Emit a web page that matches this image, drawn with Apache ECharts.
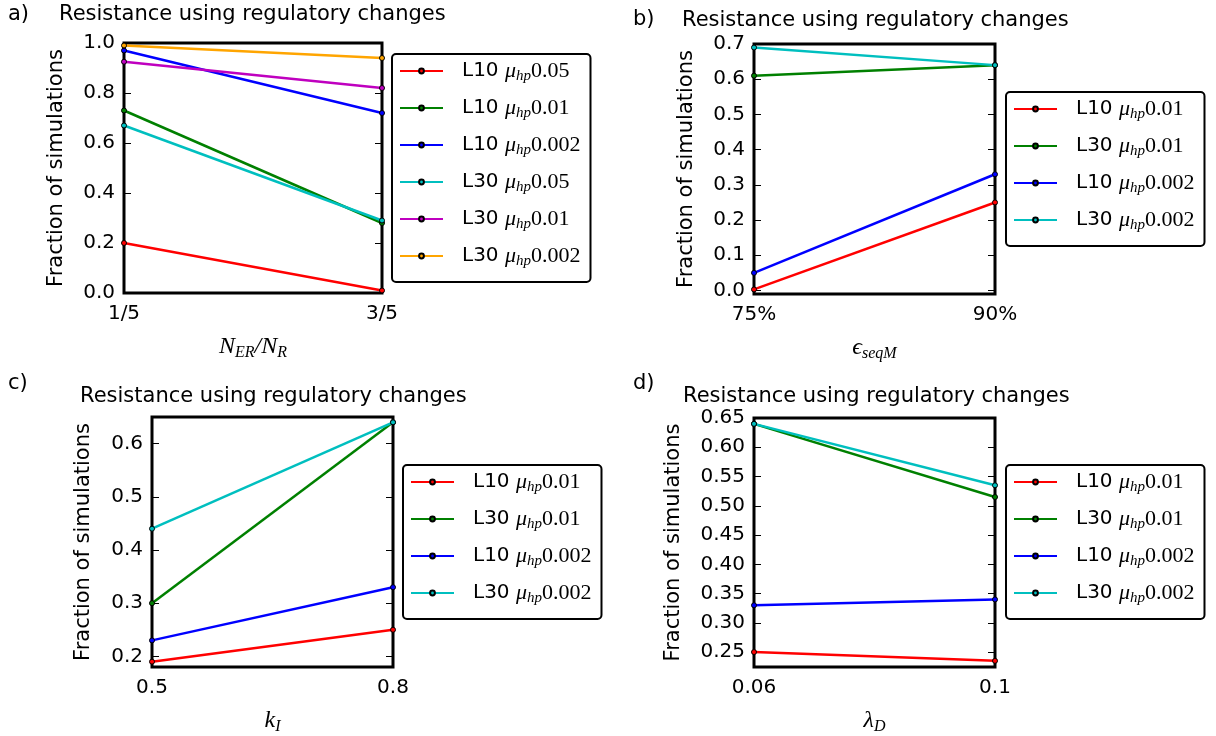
<!DOCTYPE html>
<html><head><meta charset="utf-8">
<script src="https://cdn.jsdelivr.net/npm/echarts@6/dist/echarts.min.js"></script>
<style>html,body{margin:0;padding:0;background:#fff}#c{width:1216px;height:736px}</style>
</head><body><div id="c"></div>
<script>
const RED = '#ff0000', GREEN = '#008000', BLUE = '#0000ff', CYAN = '#00bfbf', MAGENTA = '#bf00bf', ORANGE = '#ffa500';

// Panel a
const catsA = ['1/5', '3/5'];
const namesA = ['L10 0.05', 'L10 0.01', 'L10 0.002', 'L30 0.05', 'L30 0.01', 'L30 0.002'];
const valuesA = [[0.20, 0.01], [0.73, 0.28], [0.97, 0.72], [0.67, 0.29], [0.925, 0.82], [0.99, 0.94]];
const colorsA = [RED, GREEN, BLUE, CYAN, MAGENTA, ORANGE];
// Panels b, c, d share series names
const namesBCD = ['L10 0.01', 'L30 0.01', 'L10 0.002', 'L30 0.002'];
const colorsBCD = [RED, GREEN, BLUE, CYAN];
const catsB = ['75%', '90%'];
const valuesB = [[0.003, 0.25], [0.61, 0.64], [0.05, 0.33], [0.69, 0.64]];
const catsC = ['0.5', '0.8'];
const valuesC = [[0.19, 0.25], [0.30, 0.64], [0.23, 0.33], [0.44, 0.64]];
const catsD = ['0.06', '0.1'];
const valuesD = [[0.25, 0.235], [0.64, 0.515], [0.33, 0.34], [0.64, 0.535]];

const title = 'Resistance using regulatory changes';
const yName = 'Fraction of simulations';

const SANS = 'DejaVu Sans';
const SERIF = 'Liberation Serif';

const rich = {
  t: {fontFamily: SANS, fontSize: 20, lineHeight: 22, color: '#000', padding: [0, 0, 0, 14]},
  sp: {fontFamily: SANS, fontSize: 20, lineHeight: 22, color: '#000'},
  m: {fontFamily: SERIF, fontStyle: 'italic', fontSize: 22, lineHeight: 22, color: '#000'},
  s: {fontFamily: SERIF, fontStyle: 'italic', fontSize: 15, lineHeight: 10, verticalAlign: 'top', padding: [9, 0, 0, 0], color: '#000'},
  v: {fontFamily: SERIF, fontSize: 22, lineHeight: 22, color: '#000'}
};
const richAxis = {
  m: {fontFamily: SERIF, fontStyle: 'italic', fontSize: 24, lineHeight: 24, color: '#000'},
  s: {fontFamily: SERIF, fontStyle: 'italic', fontSize: 16, lineHeight: 10, verticalAlign: 'top', padding: [10, 0, 0, 0], color: '#000'}
};

const grids = [
  {left: 124, top: 43, width: 258, height: 250},
  {left: 754, top: 44, width: 241, height: 250},
  {left: 152, top: 417, width: 241, height: 250},
  {left: 754, top: 418, width: 241, height: 249}
];
grids.forEach(g => { g.show = true; g.borderColor = '#000'; g.borderWidth = 3; g.backgroundColor = 'transparent'; });

const xNames = ['{m|N}{s|ER}{m|/N}{s|R}', '{m|ϵ}{s|seqM}', '{m|k}{s|I}', '{m|λ}{s|D}'];
const xCats = [catsA, catsB, catsC, catsD];
const xAxes = xCats.map((c, i) => ({
  type: 'category', gridIndex: i, data: c, boundaryGap: false,
  axisLine: {show: false}, axisTick: {show: false}, splitLine: {show: false},
  axisLabel: {fontFamily: SANS, fontSize: 20, color: '#000', margin: 11},
  name: xNames[i], nameLocation: 'middle', nameGap: 42,
  nameTextStyle: {rich: richAxis}
}));

const yCfg = [
  {min: 0, max: 1, iv: 0.2, dec: 1, gap: 57, hideMin: false},
  {min: -0.01, max: 0.7, iv: 0.1, dec: 1, gap: 57, hideMin: true},
  {min: 0.18, max: 0.65, iv: 0.1, dec: 1, gap: 58, hideMin: true, hideMax: true},
  {min: 0.2245, max: 0.65, iv: 0.05, dec: 2, gap: 70, hideMin: true}
];
const yAxes = [];
yCfg.forEach((c, i) => {
  yAxes.push({
    type: 'value', gridIndex: i, position: 'left', min: c.min, max: c.max,
    minInterval: c.iv, maxInterval: c.iv,
    axisLine: {show: false}, splitLine: {show: false},
    axisTick: {show: true, inside: true, length: 7, lineStyle: {color: '#000', width: 1}},
    axisLabel: {fontFamily: SANS, fontSize: 20, color: '#000', margin: 9,
      showMinLabel: !c.hideMin, showMaxLabel: !c.hideMax,
      formatter: v => v.toFixed(c.dec)},
    name: yName, nameLocation: 'middle', nameGap: c.gap,
    nameTextStyle: {fontFamily: SANS, fontSize: 21, color: '#000'}
  });
  yAxes.push({
    type: 'value', gridIndex: i, position: 'right', min: c.min, max: c.max,
    minInterval: c.iv, maxInterval: c.iv,
    axisLine: {show: false}, splitLine: {show: false}, axisLabel: {show: false},
    axisTick: {show: true, inside: true, length: 7, lineStyle: {color: '#000', width: 1}}
  });
});

const series = [];
function addSeries(panel, gi, names, values, colors) {
  names.forEach((n, k) => {
    series.push({
      type: 'line', name: panel + '|' + n, xAxisIndex: gi, yAxisIndex: gi * 2,
      data: values[k], symbol: 'circle', symbolSize: 5, showAllSymbol: true,
      lineStyle: {color: colors[k], width: 2.5},
      itemStyle: {color: colors[k], borderColor: '#000', borderWidth: 1},
      emphasis: {disabled: true}, z: 3
    });
  });
}
addSeries('a', 0, namesA, valuesA, colorsA);
addSeries('b', 1, namesBCD, valuesB, colorsBCD);
addSeries('c', 2, namesBCD, valuesC, colorsBCD);
addSeries('d', 3, namesBCD, valuesD, colorsBCD);

const legendPos = [
  {left: 392, top: 54, panel: 'a', names: namesA},
  {left: 1006, top: 92, panel: 'b', names: namesBCD},
  {left: 403, top: 465, panel: 'c', names: namesBCD},
  {left: 1006, top: 465, panel: 'd', names: namesBCD}
];
const legends = legendPos.map(l => ({
  left: l.left, top: l.top, orient: 'vertical',
  data: l.names.map(n => l.panel + '|' + n),
  itemWidth: 43, itemHeight: 6, itemGap: 13,
  padding: [6, 10, 13, 7],
  borderColor: '#000', borderWidth: 2, borderRadius: 4,
  selectedMode: false,
  formatter: name => {
    const p = name.split('|')[1].split(' ');
    return '{t|' + p[0] + '}{sp| }{m|μ}{s|hp}{v|' + p[1] + '}';
  },
  textStyle: {rich: rich}
}));

const titles = [
  {text: 'a)', left: 8, top: 4},
  {text: title, left: 59, top: 4},
  {text: 'b)', left: 633, top: 9},
  {text: title, left: 682, top: 10},
  {text: 'c)', left: 8, top: 373},
  {text: title, left: 80, top: 386},
  {text: 'd)', left: 633, top: 373},
  {text: title, left: 683, top: 386}
].map(t => Object.assign(t, {padding: 0, textStyle: {fontFamily: SANS, fontSize: 21, fontWeight: 'normal', color: '#000'}}));

const chart = echarts.init(document.getElementById('c'), null, {renderer: 'canvas'});
chart.setOption({
  animation: false,
  backgroundColor: '#fff',
  textStyle: {fontFamily: SANS},
  title: titles,
  grid: grids,
  xAxis: xAxes,
  yAxis: yAxes,
  legend: legends,
  series: series
});
</script>
</body></html>
